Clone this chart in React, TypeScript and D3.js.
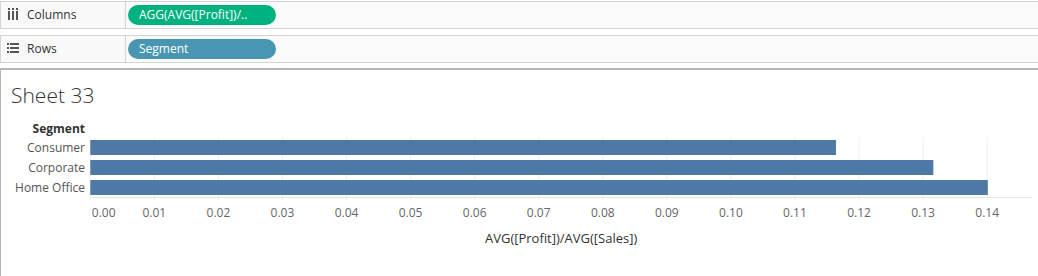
import React from "react";
import * as d3 from "d3";

const segments = ["Consumer", "Corporate", "Home Office"];
const ratios = [0.1164, 0.1316, 0.1401];
const tickValues = [0, 0.01, 0.02, 0.03, 0.04, 0.05, 0.06, 0.07, 0.08, 0.09, 0.1, 0.11, 0.12, 0.13, 0.14];
const columnsPill = "AGG(AVG([Profit])/..";
const rowsPill = "Segment";
const sheetTitle = "Sheet 33";
const axisTitle = "AVG([Profit])/AVG([Sales])";
const rowHeader = "Segment";

const W = 1038;
const H = 276;
const FONT = "'Open Sans', 'Noto Sans', sans-serif";

export default function App() {
  const x = d3.scaleLinear().domain([0, 0.147]).range([90.3, 1032]);
  const y = d3.scaleBand<string>().domain(segments).range([137.5, 197.5]).paddingInner(0.25).paddingOuter(0.125);
  const fmt = d3.format(".2f");
  const paneTop = 137;
  const paneBottom = 197;

  return (
    <div style={{ position: "fixed", left: 0, top: 0, width: W, height: H, background: "#fff" }}>
      <svg width={W} height={H} style={{ display: "block" }} fontFamily={FONT}>
        {/* Shelves */}
        <rect x={0} y={1} width={W} height={27} fill="#f9f9f9" />
        <line x1={0} x2={W} y1={1.5} y2={1.5} stroke="#d4d4d4" />
        <line x1={0} x2={W} y1={28.5} y2={28.5} stroke="#d4d4d4" />
        <rect x={0} y={35} width={W} height={27} fill="#f9f9f9" />
        <line x1={0} x2={W} y1={35.5} y2={35.5} stroke="#d4d4d4" />
        <line x1={0} x2={W} y1={62.5} y2={62.5} stroke="#d4d4d4" />
        <line x1={0.5} x2={0.5} y1={1} y2={28} stroke="#d4d4d4" />
        <line x1={0.5} x2={0.5} y1={35} y2={62} stroke="#d4d4d4" />
        <line x1={125.5} x2={125.5} y1={2} y2={28} stroke="#d4d4d4" />
        <line x1={125.5} x2={125.5} y1={36} y2={62} stroke="#d4d4d4" />
        <rect x={126} y={2} width={W - 126} height={26} fill="#fafafa" />
        <rect x={126} y={36} width={W - 126} height={26} fill="#fafafa" />

        {/* Columns icon */}
        <g fill="#555">
          <rect x={8} y={11} width={2} height={9} />
          <rect x={12} y={11} width={2} height={9} />
          <rect x={16} y={11} width={2} height={9} />
          <rect x={8} y={8} width={2} height={2} />
          <rect x={12} y={8} width={2} height={2} />
          <rect x={16} y={8} width={2} height={2} />
        </g>
        <text x={27} y={19} fontSize={12} fill="#333">Columns</text>

        {/* Rows icon */}
        <g fill="#555">
          <rect x={7} y={43} width={2} height={2} />
          <rect x={7} y={47} width={2} height={2} />
          <rect x={7} y={51} width={2} height={2} />
          <rect x={10} y={43} width={9} height={2} />
          <rect x={10} y={47} width={9} height={2} />
          <rect x={10} y={51} width={9} height={2} />
        </g>
        <text x={27} y={53} fontSize={12} fill="#333">Rows</text>

        {/* Pills */}
        <rect x={128} y={5} width={148} height={20} rx={10} fill="#00b180" />
        <text x={139} y={19} fontSize={12} fontWeight={500} fill="#fff">{columnsPill}</text>
        <rect x={128} y={39} width={148} height={20} rx={10} fill="#4996b2" />
        <text x={139} y={53} fontSize={12} fontWeight={500} fill="#fff">{rowsPill}</text>

        {/* Sheet frame */}
        <line x1={0} x2={W} y1={69} y2={69} stroke="#b4b4b4" strokeWidth={2} />
        <line x1={0.5} x2={0.5} y1={70} y2={H} stroke="#b4b4b4" />

        <text x={11} y={103} fontSize={21} fontWeight={300} fill="#333">{sheetTitle}</text>

        {/* Row header */}
        <text x={85} y={132.5} fontSize={12} fontWeight={700} fill="#333" textAnchor="end">{rowHeader}</text>

        {/* Grid */}
        {tickValues.map((t) => (
          <line key={"g" + t} x1={x(t)} x2={x(t)} y1={paneTop} y2={paneBottom + 4} stroke="#efefef" strokeWidth={1} />
        ))}
        <line x1={x(0)} x2={1032} y1={paneBottom + 0.5} y2={paneBottom + 0.5} stroke="#e6e6e6" />

        {/* Bars */}
        {segments.map((s, i) => (
          <rect key={s} x={x(0)} y={y(s)} width={x(ratios[i]) - x(0)} height={y.bandwidth()} fill="#4e79a7" />
        ))}

        {/* Row labels */}
        {segments.map((s) => (
          <text key={"l" + s} x={85} y={(y(s) as number) + y.bandwidth() / 2 + 4} fontSize={12} fill="#555" textAnchor="end">{s}</text>
        ))}

        {/* Tick labels */}
        {tickValues.map((t, i) => (
          <text key={"t" + t} x={i === 0 ? x(t) + 1.5 : x(t)} y={217} fontSize={12} fill="#666" textAnchor={i === 0 ? "start" : "middle"}>{fmt(t)}</text>
        ))}

        <text x={(x(0) + 1032) / 2} y={243} fontSize={13} fontWeight={500} fill="#333" textAnchor="middle">{axisTitle}</text>
      </svg>
    </div>
  );
}
